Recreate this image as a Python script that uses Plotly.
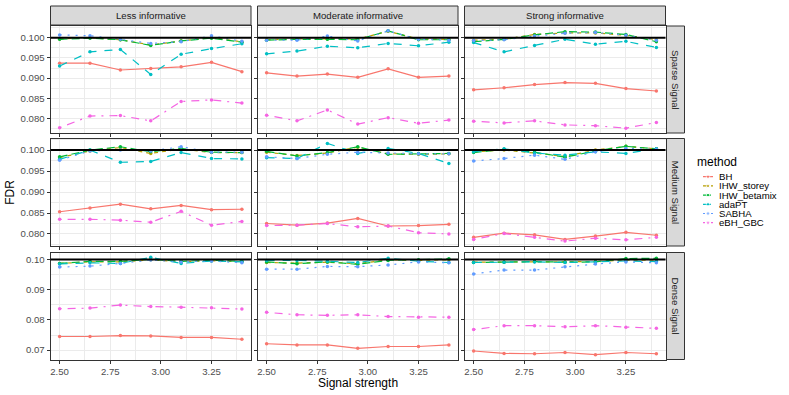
import plotly.graph_objects as go

# ---------------- data ----------------
x_vals = [2.50, 2.65, 2.80, 2.95, 3.10, 3.25, 3.40]
methods = ["BH", "IHW_storey", "IHW_betamix", "adaPT", "SABHA", "eBH_GBC"]
informativeness = ["Less informative", "Moderate informative", "Strong informative"]
signal_types = ["Sparse Signal", "Medium Signal", "Dense Signal"]
TARGET_FDR = 0.1

# each list: rows in order of `methods`
fdr_sparse_less = [
    [0.0937, 0.0937, 0.0920, 0.0924, 0.0928, 0.0939, 0.0916],
    [0.0997, 0.1000, 0.0995, 0.0982, 0.0992, 0.1000, 0.0990],
    [0.0996, 0.0999, 0.0995, 0.0981, 0.0992, 0.0999, 0.0989],
    [0.0930, 0.0965, 0.0971, 0.0909, 0.0959, 0.0973, 0.0985],
    [0.1007, 0.1005, 0.0996, 0.0986, 0.0990, 0.1005, 0.0991],
    [0.0777, 0.0806, 0.0807, 0.0794, 0.0842, 0.0846, 0.0838],
]
fdr_sparse_moderate = [
    [0.0913, 0.0905, 0.0910, 0.0902, 0.0923, 0.0902, 0.0905],
    [0.0995, 0.0997, 0.0997, 0.0997, 0.1016, 0.0997, 0.0996],
    [0.0994, 0.0996, 0.0996, 0.0995, 0.1017, 0.0995, 0.0995],
    [0.0960, 0.0967, 0.0979, 0.0975, 0.0986, 0.0980, 0.0989],
    [0.0994, 0.0994, 0.1004, 0.0992, 0.1017, 0.0996, 0.0994],
    [0.0808, 0.0794, 0.0821, 0.0786, 0.0802, 0.0788, 0.0796],
]
fdr_sparse_strong = [
    [0.0871, 0.0876, 0.0884, 0.0889, 0.0887, 0.0874, 0.0868],
    [0.0994, 0.0996, 0.1008, 0.1012, 0.1012, 0.1006, 0.0995],
    [0.0990, 0.0996, 0.1007, 0.1015, 0.1014, 0.1008, 0.0990],
    [0.0988, 0.0965, 0.0981, 0.0996, 0.0984, 0.0991, 0.0976],
    [0.0993, 0.0995, 0.1004, 0.1011, 0.1013, 0.1006, 0.0994],
    [0.0793, 0.0789, 0.0794, 0.0784, 0.0782, 0.0776, 0.0790],
]
fdr_medium_less = [
    [0.0853, 0.0862, 0.0871, 0.0860, 0.0868, 0.0858, 0.0859],
    [0.0982, 0.0998, 0.1006, 0.0992, 0.1003, 0.0994, 0.0994],
    [0.0984, 0.1000, 0.1008, 0.0996, 0.1004, 0.0995, 0.0994],
    [0.0978, 0.1000, 0.0971, 0.0973, 0.0994, 0.0980, 0.0979],
    [0.0976, 0.0998, 0.1000, 0.0998, 0.1008, 0.0995, 0.0995],
    [0.0835, 0.0835, 0.0833, 0.0828, 0.0854, 0.0821, 0.0830],
]
fdr_medium_moderate = [
    [0.0825, 0.0821, 0.0826, 0.0837, 0.0819, 0.0820, 0.0823],
    [0.0995, 0.0987, 0.0993, 0.1007, 0.0991, 0.0990, 0.0991],
    [0.0997, 0.0986, 0.0994, 0.1008, 0.0990, 0.0991, 0.0992],
    [0.0982, 0.0980, 0.1016, 0.0992, 0.1004, 0.0992, 0.0968],
    [0.0984, 0.0980, 0.0990, 0.0995, 0.0993, 0.0991, 0.0991],
    [0.0820, 0.0821, 0.0825, 0.0817, 0.0819, 0.0803, 0.0800],
]
fdr_medium_strong = [
    [0.0792, 0.0802, 0.0798, 0.0787, 0.0795, 0.0804, 0.0797],
    [0.0996, 0.1000, 0.0993, 0.0985, 0.1000, 0.1009, 0.1003],
    [0.0994, 0.1002, 0.0995, 0.0983, 0.0998, 0.1009, 0.1003],
    [0.0996, 0.1003, 0.0993, 0.0988, 0.0996, 0.0992, 0.1003],
    [0.0974, 0.0980, 0.0988, 0.0978, 0.0996, 0.1004, 0.1002],
    [0.0787, 0.0801, 0.0792, 0.0783, 0.0790, 0.0786, 0.0792],
]
fdr_dense_less = [
    [0.0745, 0.0745, 0.0748, 0.0747, 0.0742, 0.0742, 0.0736],
    [0.0987, 0.0992, 0.0992, 0.0999, 0.0993, 0.0996, 0.0993],
    [0.0987, 0.0994, 0.0994, 0.1000, 0.0994, 0.0997, 0.0994],
    [0.0985, 0.0989, 0.0987, 0.1007, 0.0987, 0.0995, 0.0992],
    [0.0975, 0.0978, 0.0987, 0.0998, 0.0992, 0.0995, 0.0989],
    [0.0837, 0.0839, 0.0849, 0.0844, 0.0842, 0.0840, 0.0836],
]
fdr_dense_moderate = [
    [0.0721, 0.0717, 0.0717, 0.0706, 0.0712, 0.0712, 0.0717],
    [0.0990, 0.0988, 0.0991, 0.0986, 0.0999, 0.0997, 0.0999],
    [0.0992, 0.0986, 0.0992, 0.0984, 0.0997, 0.0999, 0.1002],
    [0.0997, 0.0997, 0.0994, 0.0990, 0.1004, 0.0994, 0.0990],
    [0.0968, 0.0968, 0.0977, 0.0976, 0.0982, 0.0992, 0.0989],
    [0.0825, 0.0817, 0.0815, 0.0817, 0.0811, 0.0809, 0.0809],
]
fdr_dense_strong = [
    [0.0697, 0.0689, 0.0688, 0.0692, 0.0685, 0.0692, 0.0688],
    [0.0991, 0.0992, 0.0993, 0.0992, 0.0993, 0.0998, 0.0998],
    [0.0990, 0.0991, 0.0993, 0.0991, 0.0992, 0.1003, 0.1004],
    [0.0990, 0.0991, 0.0992, 0.0990, 0.0992, 0.0995, 0.0993],
    [0.0952, 0.0965, 0.0965, 0.0976, 0.0985, 0.0992, 0.0989],
    [0.0768, 0.0781, 0.0781, 0.0777, 0.0781, 0.0776, 0.0772],
]

x_ticks = [2.50, 2.75, 3.00, 3.25]
y_ticks_rows = [
    [0.080, 0.085, 0.090, 0.095, 0.100],
    [0.080, 0.085, 0.090, 0.095, 0.100],
    [0.07, 0.08, 0.09, 0.10],
]
y_fmt_rows = [".3f", ".3f", ".2f"]
y_minor_rows = [0.0025, 0.0025, 0.005]

panels = [
    [fdr_sparse_less, fdr_sparse_moderate, fdr_sparse_strong],
    [fdr_medium_less, fdr_medium_moderate, fdr_medium_strong],
    [fdr_dense_less, fdr_dense_moderate, fdr_dense_strong],
]

# ---------------- style ----------------
colors = ["#F8766D", "#B79F00", "#00BA38", "#00BFC4", "#619CFF", "#F564E3"]
dashes = ["solid", "4px,4px", "8px,4px", "8px,8px", "2px,6px", "2px,6px,8px,6px"]
FONT = "Liberation Sans, Arial, sans-serif"
W, H = 789, 395

col_px = [(50.5, 251.0), (257.5, 458.0), (464.5, 665.5)]
row_px = [(26.0, 133.0), (138.5, 246.0), (252.5, 359.5)]
strip_top_px = (6.0, 25.0)
strip_right_px = (666.5, 684.5)


def px_x(v):
    return v / W


def px_y(v):
    return 1 - v / H


fig = go.Figure()
layout = dict(
    width=W, height=H, margin=dict(l=0, r=0, t=0, b=0),
    paper_bgcolor="white", plot_bgcolor="white", showlegend=False,
    font=dict(family=FONT, size=10, color="#4D4D4D"),
)
shapes = []
annotations = []

x_lo, x_hi = min(x_vals), max(x_vals)
x_pad = (x_hi - x_lo) * 0.05

for r in range(3):
    row_vals = [v for c in range(3) for s in panels[r][c] for v in s] + [TARGET_FDR]
    y_lo, y_hi = min(row_vals), max(row_vals)
    y_pad = (y_hi - y_lo) * 0.05
    for c in range(3):
        k = r * 3 + c + 1
        xa = "xaxis" if k == 1 else f"xaxis{k}"
        ya = "yaxis" if k == 1 else f"yaxis{k}"
        xr = "x" if k == 1 else f"x{k}"
        yr = "y" if k == 1 else f"y{k}"
        layout[xa] = dict(
            domain=[px_x(col_px[c][0]), px_x(col_px[c][1])],
            range=[x_lo - x_pad, x_hi + x_pad], anchor=yr,
            tickvals=x_ticks, tickformat=".2f", showticklabels=(r == 2),
            ticks="outside", ticklen=3, tickcolor="#333333", tickwidth=1,
            showgrid=True, gridcolor="#EBEBEB", gridwidth=1,
            minor=dict(dtick=0.125, tick0=2.5, showgrid=True, gridcolor="#EBEBEB",
                       gridwidth=0.5, ticks=""),
            showline=True, mirror=True, linecolor="#333333", linewidth=1,
            zeroline=False, tickfont=dict(size=9.6, color="#4D4D4D"),
        )
        layout[ya] = dict(
            domain=[px_y(row_px[r][1]), px_y(row_px[r][0])],
            range=[y_lo - y_pad, y_hi + y_pad], anchor=xr,
            tickvals=y_ticks_rows[r], tickformat=y_fmt_rows[r], showticklabels=(c == 0),
            ticks="outside", ticklen=3, tickcolor="#333333", tickwidth=1,
            showgrid=True, gridcolor="#EBEBEB", gridwidth=1,
            minor=dict(dtick=y_minor_rows[r], tick0=y_ticks_rows[r][0], showgrid=True,
                       gridcolor="#EBEBEB", gridwidth=0.5, ticks=""),
            showline=True, mirror=True, linecolor="#333333", linewidth=1,
            zeroline=False, tickfont=dict(size=9.6, color="#4D4D4D"),
        )
        for m, name in enumerate(methods):
            fig.add_trace(go.Scatter(
                x=x_vals, y=panels[r][c][m], name=name, xaxis=xr, yaxis=yr,
                mode="lines+markers",
                line=dict(color=colors[m], width=1.2, dash=dashes[m]),
                marker=dict(color=colors[m], size=3.5),
                hoverinfo="name+x+y",
            ))
        shapes.append(dict(
            type="line", xref=f"{xr} domain", yref=yr, x0=0, x1=1,
            y0=TARGET_FDR, y1=TARGET_FDR, line=dict(color="black", width=2),
            layer="above",
        ))

# strips
for c, lab in enumerate(informativeness):
    shapes.append(dict(
        type="rect", xref="paper", yref="paper",
        x0=px_x(col_px[c][0]), x1=px_x(col_px[c][1]),
        y0=px_y(strip_top_px[1]), y1=px_y(strip_top_px[0]),
        fillcolor="#D9D9D9", line=dict(color="#333333", width=1), layer="above",
    ))
    annotations.append(dict(
        text=lab, xref="paper", yref="paper", showarrow=False,
        x=px_x((col_px[c][0] + col_px[c][1]) / 2),
        y=px_y((strip_top_px[0] + strip_top_px[1]) / 2),
        xanchor="center", yanchor="middle",
        font=dict(size=9.6, color="#1A1A1A", family=FONT),
    ))
for r, lab in enumerate(signal_types):
    shapes.append(dict(
        type="rect", xref="paper", yref="paper",
        x0=px_x(strip_right_px[0]), x1=px_x(strip_right_px[1]),
        y0=px_y(row_px[r][1]), y1=px_y(row_px[r][0]),
        fillcolor="#D9D9D9", line=dict(color="#333333", width=1), layer="above",
    ))
    annotations.append(dict(
        text=lab, xref="paper", yref="paper", showarrow=False, textangle=90,
        x=px_x((strip_right_px[0] + strip_right_px[1]) / 2),
        y=px_y((row_px[r][0] + row_px[r][1]) / 2),
        xanchor="center", yanchor="middle",
        font=dict(size=9.6, color="#1A1A1A", family=FONT),
    ))

# axis titles
annotations.append(dict(
    text="Signal strength", xref="paper", yref="paper", showarrow=False,
    x=px_x((col_px[0][0] + col_px[2][1]) / 2), y=px_y(382.5),
    xanchor="center", yanchor="middle", font=dict(size=12, color="black", family=FONT),
))
annotations.append(dict(
    text="FDR", xref="paper", yref="paper", showarrow=False, textangle=-90,
    x=px_x(10), y=px_y((row_px[0][0] + row_px[2][1]) / 2),
    xanchor="center", yanchor="middle", font=dict(size=12, color="black", family=FONT),
))

# legend drawn on a hidden axis pair, one row per method
item_h = 9.2
first_y = 176.7
n = len(methods)
layout["xaxis10"] = dict(domain=[px_x(703), px_x(713)], range=[0, 1], visible=False,
                         anchor="y10", fixedrange=True)
layout["yaxis10"] = dict(
    domain=[px_y(first_y + item_h * (n - 0.5)), px_y(first_y - item_h * 0.5)],
    range=[n - 0.5, -0.5], visible=False, anchor="x10", fixedrange=True)
for m, name in enumerate(methods):
    fig.add_trace(go.Scatter(
        x=[0, 0.5, 1], y=[m, m, m], xaxis="x10", yaxis="y10", mode="lines+markers",
        line=dict(color=colors[m], width=1.2, dash=dashes[m]),
        marker=dict(color=colors[m], size=[0, 3.5, 0]), hoverinfo="skip",
    ))
    annotations.append(dict(
        text=name, xref="x10", yref="y10", x=1, y=m, showarrow=False,
        xanchor="left", yanchor="middle", xshift=5, borderpad=0,
        font=dict(size=9.6, color="black", family=FONT),
    ))
annotations.append(dict(
    text="method", xref="paper", yref="paper", x=px_x(695), y=px_y(162),
    showarrow=False, xanchor="left", yanchor="middle",
    font=dict(size=12, color="black", family=FONT),
))

layout["shapes"] = shapes
layout["annotations"] = annotations
fig.update_layout(**layout)
fig.write_html(
    "out.html",
    config={"displayModeBar": False},
    post_script="document.body.style.margin='0';document.body.style.overflow='hidden';",
)
